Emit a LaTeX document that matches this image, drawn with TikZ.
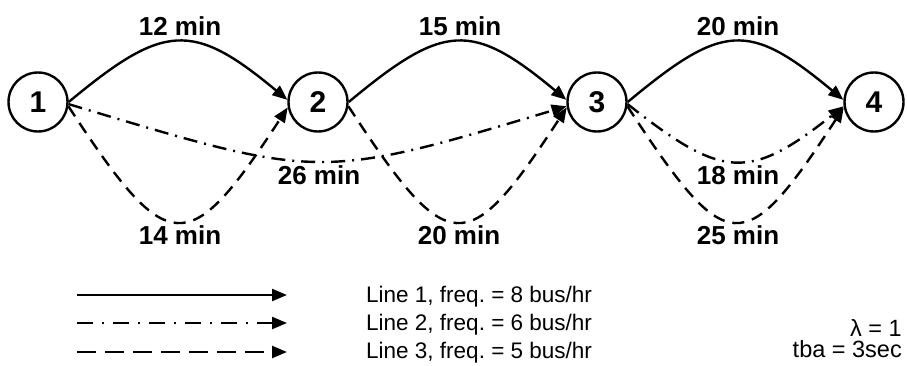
\documentclass[tikz,border=0pt]{standalone}
\usepackage{fontspec}
\setmainfont{Liberation Sans}
\usetikzlibrary{arrows.meta}
\frenchspacing

\tikzset{
  stop/.style={circle, draw, line width=2.4pt, minimum size=59pt, inner sep=0pt,
    font=\fontsize{30}{34}\selectfont\bfseries},
  timelbl/.style={inner sep=0pt, font=\fontsize{26}{30}\selectfont\bfseries},
  legtext/.style={inner sep=0pt, anchor=base west, font=\fontsize{22.5}{26}\selectfont},
  notetext/.style={inner sep=0pt, anchor=south east, align=right,
    font=\fontsize{23.5}{21.5}\selectfont},
  route/.style={line width=2.4pt, -{Triangle[length=15pt,width=12pt]}},
  lineone/.style={route},
  linetwo/.style={route, dash pattern=on 14pt off 7pt on 2pt off 7pt},
  linethree/.style={route, dash pattern=on 12pt off 8pt},
  legtwo/.style={route, dash pattern=on 16pt off 9pt on 2pt off 9pt},
  legthree/.style={route, dash pattern=on 19pt off 9pt},
}

\begin{document}
\begin{tikzpicture}[x=1pt, y=-1pt]
  \useasboundingbox (0,0) rectangle (907,366);

  % stops
  \node[stop] (n1) at (38,102)  {1};
  \node[stop] (n2) at (318,102) {2};
  \node[stop] (n3) at (597,102) {3};
  \node[stop] (n4) at (874,102) {4};

  % line 1 (solid arcs above)
  \draw[lineone] (n1.east) .. controls +(95,-79) and +(-95,-79) .. (n2.176);
  \draw[lineone] (n2.east) .. controls +(95,-79) and +(-95,-79) .. (n3.176);
  \draw[lineone] (n3.east) .. controls +(95,-79) and +(-95,-79) .. (n4.176);

  % line 2 (dash-dot)
  \draw[linetwo] (n1.-4) .. controls +(250,75) and +(-250,75) .. (n3.188);
  \draw[linetwo] (n3.-4) .. controls +(95,75) and +(-95,75) .. (n4.188);

  % line 3 (dashed arcs below)
  \draw[linethree] (n1.-8) .. controls +(100,153) and +(-100,153) .. (n2.190);
  \draw[linethree] (n2.-8) .. controls +(100,153) and +(-100,153) .. (n3.190);
  \draw[linethree] (n3.-8) .. controls +(100,153) and +(-100,153) .. (n4.190);

  % travel times
  \node[timelbl] (t12) at (180,26)  {12 min};
  \node[timelbl] (t23) at (460,26)  {15 min};
  \node[timelbl] (t34) at (738,26)  {20 min};
  \node[timelbl] (d13) at (319,175) {26 min};
  \node[timelbl] (d34) at (738,175) {18 min};
  \node[timelbl] (s12) at (180,235) {14 min};
  \node[timelbl] (s23) at (459,235) {20 min};
  \node[timelbl] (s34) at (738,235) {25 min};

  % legend
  \coordinate (la1) at (77,295);  \coordinate (lb1) at (287,295);
  \coordinate (la2) at (77,323);  \coordinate (lb2) at (287,323);
  \coordinate (la3) at (77,352);  \coordinate (lb3) at (287,352);
  \draw[lineone]  (la1) -- (lb1);
  \draw[legtwo]   (la2) -- (lb2);
  \draw[legthree] (la3) -- (lb3);
  \node[legtext] (leg1) at (366,302) {Line 1, freq. = 8 bus/hr};
  \node[legtext] (leg2) at (366,330) {Line 2, freq. = 6 bus/hr};
  \node[legtext] (leg3) at (366,358) {Line 3, freq. = 5 bus/hr};

  % parameters
  \node[notetext] (params) at (902,358) {λ = 1\\tba = 3sec};
\end{tikzpicture}
\end{document}
